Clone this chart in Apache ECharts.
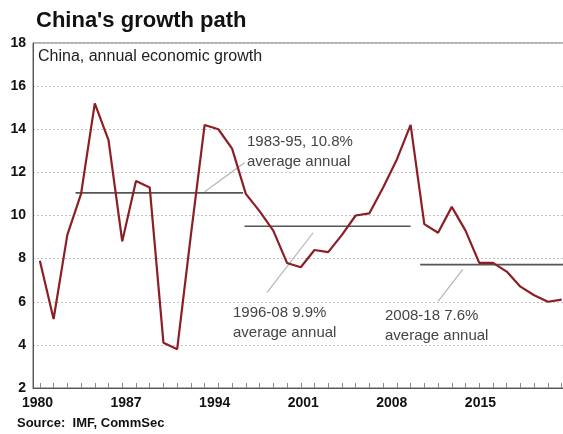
<!DOCTYPE html>
<html><head><meta charset="utf-8">
<script src="https://cdn.jsdelivr.net/npm/echarts@6/dist/echarts.min.js"></script>
<style>html,body{margin:0;padding:0;background:#fff;overflow:hidden;width:563px;height:434px}#c{width:572px;height:434px}</style>
</head><body><div id="c"></div>
<script>
// ---- data ----
const years = [];
for (let y = 1980; y <= 2018; y++) years.push(String(y));
const growth = [7.9, 5.2, 9.1, 11.0, 15.2, 13.5, 8.8, 11.6, 11.3, 4.1,
                3.8, 9.1, 14.2, 14.0, 13.1, 11.0, 10.2, 9.3, 7.8, 7.6,
                8.4, 8.3, 9.1, 10.0, 10.1, 11.3, 12.6, 14.2, 9.6, 9.2,
                10.4, 9.3, 7.8, 7.8, 7.4, 6.7, 6.3, 6.0, 6.1];
const xTickLabels = ['1980', '1987', '1994', '2001', '2008', '2015'];
const avg1 = [[1982.6, 11.05], [1994.8, 11.05]];
const avg2 = [[1994.9, 9.5], [2007.0, 9.5]];
const avg3 = [[2007.7, 7.72], [2018.6, 7.72]];
const lead1 = [[1992.0, 11.1], [1994.9, 12.45]];
const lead2 = [[1996.55, 6.43], [1999.9, 9.2]];
const lead3 = [[2009.0, 6.02], [2010.8, 7.5]];
const note1 = ['1983-95, 10.8%', 'average annual'];
const note2 = ['1996-08 9.9%', 'average annual'];
const note3 = ['2008-18 7.6%', 'average annual'];

const FONT = '"Liberation Sans", Arial, sans-serif';
const chart = echarts.init(document.getElementById('c'), null, {renderer: 'canvas'});

const avgStyle = {color: '#555', width: 1.6};
const leadStyle = {color: '#b5b5b5', width: 1.2};
function segSeries(data, style) {
  return {type: 'line', xAxisIndex: 1, yAxisIndex: 0, data: data, symbol: 'none',
          lineStyle: style, silent: true, animation: false, z: 2};
}

chart.setOption({
  animation: false,
  backgroundColor: '#fff',
  title: [
    {text: "China's growth path", left: 36, top: 10, padding: 0,
     textStyle: {fontFamily: FONT, fontSize: 22, fontWeight: 'bold', color: '#111'}},
    {text: 'Source:  IMF, CommSec', left: 17, top: 417, padding: 0,
     textStyle: {fontFamily: FONT, fontSize: 13, fontWeight: 'bold', color: '#111'}}
  ],
  graphic: [
    {type: 'text', left: 38, top: 49, style: {text: 'China, annual economic growth', font: '16px ' + FONT, fill: '#222'}},
    {type: 'text', left: 247, top: 132, style: {text: note1.join('\n'), font: '15px ' + FONT, fill: '#444', lineHeight: 20}},
    {type: 'text', left: 233, top: 303, style: {text: note2.join('\n'), font: '15px ' + FONT, fill: '#444', lineHeight: 20}},
    {type: 'text', left: 385, top: 306, style: {text: note3.join('\n'), font: '15px ' + FONT, fill: '#444', lineHeight: 20}}
  ],
  grid: [
    {left: 33, top: 43, width: 535.5, height: 345, show: true, borderColor: '#666', borderWidth: 1, backgroundColor: 'transparent'},
    {left: 37.5, top: 43, width: 532, height: 345}
  ],
  xAxis: [
    {type: 'category', gridIndex: 0, data: years, boundaryGap: true,
     axisLine: {lineStyle: {color: '#555', width: 1}},
     axisTick: {show: true, inside: true, length: 5, interval: 0, alignWithLabel: true, lineStyle: {color: '#888'}},
     axisLabel: {show: false}, splitLine: {show: false}},
    {type: 'value', gridIndex: 0, min: 1979.5, max: 2018.5, show: false, splitLine: {show: false}},
    {type: 'value', gridIndex: 1, min: 0, max: 6, interval: 1,
     axisLine: {show: false}, axisTick: {show: false}, splitLine: {show: false},
     axisLabel: {show: true, margin: 8, fontFamily: FONT, fontSize: 14, fontWeight: 'bold', color: '#111',
                 formatter: function (v) { return xTickLabels[v] || ''; }}}
  ],
  yAxis: [
    {type: 'value', gridIndex: 0, min: 2, max: 18, interval: 2,
     axisLine: {show: true, lineStyle: {color: '#555'}}, axisTick: {show: false},
     axisLabel: {margin: 7, fontFamily: FONT, fontSize: 14, fontWeight: 'bold', color: '#111'},
     splitLine: {show: true, lineStyle: {color: '#c4c4c4', type: [2, 2], width: 1}}},
    {type: 'value', gridIndex: 1, min: 0, max: 1, show: false}
  ],
  series: [
    segSeries(avg1, avgStyle),
    segSeries(avg2, avgStyle),
    segSeries(avg3, avgStyle),
    segSeries(lead1, leadStyle),
    segSeries(lead2, leadStyle),
    segSeries(lead3, leadStyle),
    {type: 'line', xAxisIndex: 0, yAxisIndex: 0, data: growth, symbol: 'none',
     lineStyle: {color: '#8b1f25', width: 2.2}, z: 5, silent: true}
  ]
});
</script>
</body></html>
